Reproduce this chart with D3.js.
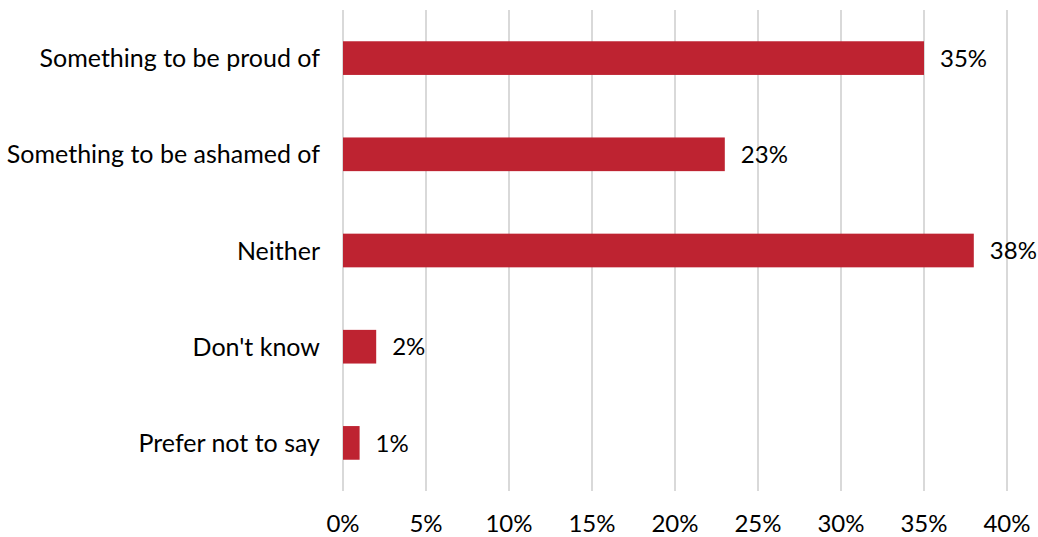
<!DOCTYPE html>
<html><head><meta charset="utf-8">
<script src="https://cdn.jsdelivr.net/npm/d3@7"></script>
<style>body{margin:0;background:#fff;} text{font-family:Lato,"Open Sans",sans-serif;fill:#000;}</style>
</head><body><svg id="c" width="1038" height="537"></svg>
<script>
const categories = ["Something to be proud of","Something to be ashamed of","Neither","Don't know","Prefer not to say"];
const values = [35,23,38,2,1];
const tickValues = [0,5,10,15,20,25,30,35,40];

const svg = d3.select("#c");
const x = d3.scaleLinear().domain([0,40]).range([343,1007]);
const y = d3.scaleBand().domain(categories).range([10,491]).paddingInner(0.65).paddingOuter(0.325);

svg.append("g").selectAll("line").data(tickValues).join("line")
  .attr("x1",d=>x(d)).attr("x2",d=>x(d)).attr("y1",10).attr("y2",491)
  .attr("stroke","#d9d9d9").attr("stroke-width",2);

svg.append("g").selectAll("rect").data(values).join("rect")
  .attr("x",x(0)).attr("y",(d,i)=>y(categories[i]))
  .attr("width",d=>x(d)-x(0)).attr("height",y.bandwidth())
  .attr("fill","#BE2331");

svg.append("g").selectAll("text").data(values).join("text")
  .attr("x",d=>x(d)+16).attr("y",(d,i)=>y(categories[i])+y.bandwidth()/2)
  .attr("dy","0.36em").attr("font-size",24).text(d=>d+"%");

svg.append("g").selectAll("text").data(categories).join("text")
  .attr("x",320).attr("y",d=>y(d)+y.bandwidth()/2).attr("dy","0.36em")
  .attr("text-anchor","end").attr("font-size",25).text(d=>d);

svg.append("g").selectAll("text").data(tickValues).join("text")
  .attr("x",d=>x(d)).attr("y",523).attr("dy","0.36em")
  .attr("text-anchor","middle").attr("font-size",24).text(d=>d+"%");
</script></body></html>
